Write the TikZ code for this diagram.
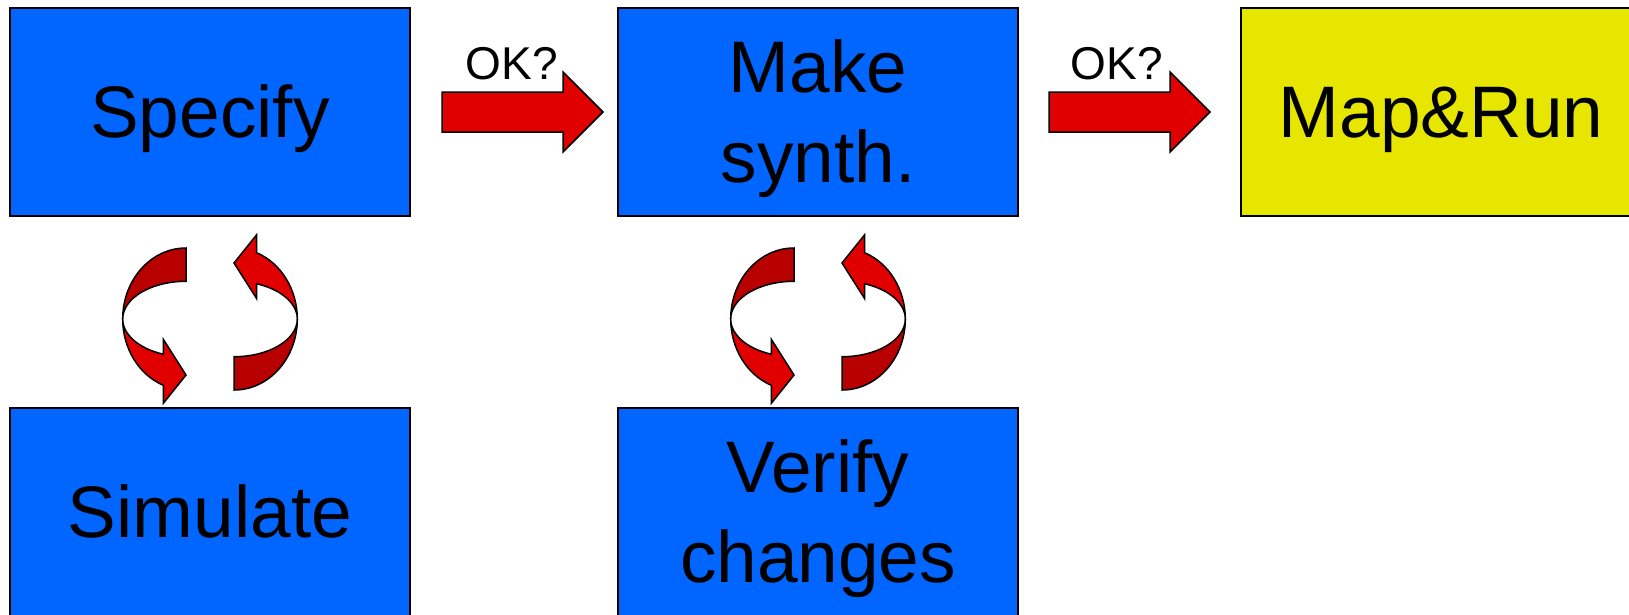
\documentclass[tikz,border=0pt]{standalone}
\usepackage{fontspec}
\setmainfont{Liberation Sans}
\usetikzlibrary{calc}
\definecolor{boxblue}{HTML}{0066FF}
\definecolor{boxyellow}{HTML}{E6E600}
\definecolor{arrowred}{HTML}{E00000}
\definecolor{arrowdark}{HTML}{B80000}
\begin{document}
\begin{tikzpicture}[x=1pt,y=1pt,
  stage/.style={draw=black, line width=2pt, minimum width=400pt, minimum height=208pt,
    inner sep=0pt, outer sep=0pt, font=\fontsize{73}{90}\selectfont,
    text height=66.1pt, text depth=15.5pt},
  twolines/.style={text depth=105.5pt},
  oklabel/.style={font=\fontsize{46}{55}\selectfont, anchor=base, inner sep=0pt},
  blockarrow/.style={fill=arrowred, draw=black, line width=1.5pt},
  twistback/.style={fill=arrowdark, draw=black, line width=1.5pt},
  twistfront/.style={fill=arrowred, draw=black, line width=1.5pt},
  cycler/.pic={
    \foreach \r in {0,180} {
      \begin{scope}[rotate=\r]
        % back face of the ribbon
        \path[twistback] (-24,71)
          arc[start angle=90, end angle=180, x radius=63.3, y radius=71]
          arc[start angle=180, end angle=90, x radius=63.3, y radius=37.7] -- cycle;
        % front face with the arrow head
        \path[twistfront] (-87.3,0)
          arc[start angle=180, end angle=249, x radius=63.3, y radius=71]
          -- (-46.7,-84.3) -- (-24,-56) -- (-46.7,-20.3) -- (-46.7,-35.2)
          arc[start angle=249, end angle=180, x radius=63.3, y radius=37.7] -- cycle;
      \end{scope}
    }
  }]
\clip (0,0) rectangle (1629,-614);
\useasboundingbox (0,0) rectangle (1629,-614);

% stages
\node[stage, fill=boxblue] (spec) at (210,-112) {Specify};
\node[stage, fill=boxblue, twolines] (make) at (818,-112)
  {\begin{tabular}[t]{@{}c@{}}Make\\synth.\end{tabular}};
\node[stage, fill=boxyellow] (map) at (1441,-112) {Map\&Run};
\node[stage, fill=boxblue] (sim) at (210,-512) {Simulate};
\node[stage, fill=boxblue, twolines] (ver) at (818,-512)
  {\begin{tabular}[t]{@{}c@{}}Verify\\changes\end{tabular}};

% forward block arrows
\coordinate (a1) at ($(spec.east)+(32,0)$);
\coordinate (b1) at ($(make.west)+(-15,0)$);
\coordinate (a2) at ($(make.east)+(31,0)$);
\coordinate (b2) at ($(map.west)+(-31,0)$);
\foreach \s/\e in {a1/b1, a2/b2} {
  \path[blockarrow] ($(\s)+(0,20)$) -- ($(\e)+(-40,20)$) -- ($(\e)+(-40,40)$)
    -- (\e) -- ($(\e)+(-40,-40)$) -- ($(\e)+(-40,-20)$) -- ($(\s)+(0,-20)$) -- cycle;
}
\node[oklabel] (ok1) at ($(a1)+(70,33)$) {OK?};
\node[oklabel] (ok2) at ($(a2)+(68,33)$) {OK?};

% iteration loops between the stages
\pic (loop1) at ($(spec.south)!0.5!(sim.north)+(0,-7)$) {cycler};
\pic (loop2) at ($(make.south)!0.5!(ver.north)+(0,-7)$) {cycler};
\end{tikzpicture}
\end{document}
